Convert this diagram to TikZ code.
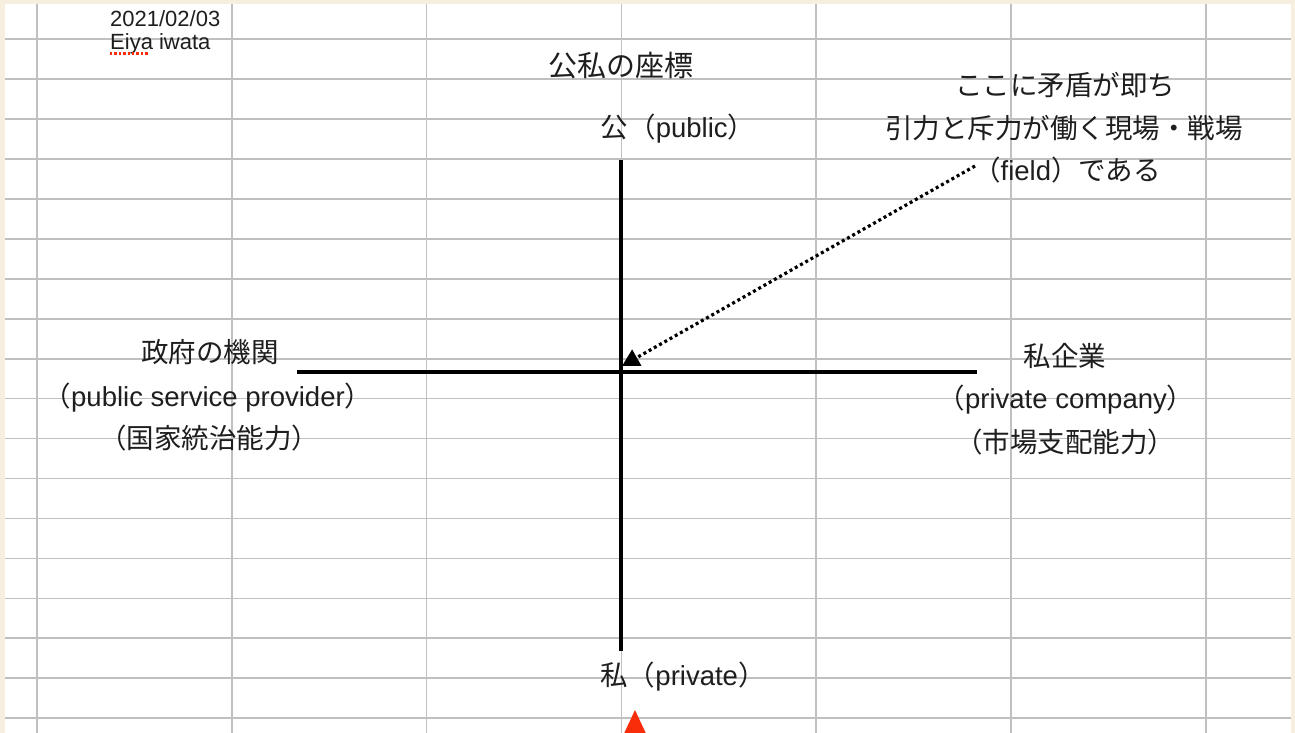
\documentclass[tikz,border=0pt]{standalone}
\usepackage{fontspec}
\setmainfont{Liberation Sans}
\newfontfamily\jp{Noto Sans CJK JP}
\usetikzlibrary{arrows.meta}
\definecolor{gridgray}{RGB}{192,192,192}
\definecolor{framebeige}{RGB}{246,239,224}
\definecolor{markred}{RGB}{250,45,10}
\definecolor{txt}{RGB}{30,30,30}
\begin{document}
\begin{tikzpicture}[x=1pt,y=-1pt,
  gridline/.style={draw=gridgray, line width=1.6pt},
  axisline/.style={draw=black, line width=3.6pt},
  lbl/.style={inner sep=0pt, anchor=base, text=txt, font=\fontsize{27.5}{33}\selectfont},
  titlelbl/.style={inner sep=0pt, anchor=base, text=txt, font=\fontsize{29}{34}\selectfont},
  smalllbl/.style={inner sep=0pt, anchor=base west, text=txt, font=\fontsize{22}{26}\selectfont},
  fieldarrow/.style={draw=black, line width=3.2pt, dash pattern=on 3pt off 3pt,
    -{Triangle[length=17pt,width=18pt]}},
]
\useasboundingbox (0,0) rectangle (1295,733);
\fill[white] (0,0) rectangle (1295,733);
\begin{scope}
\clip (0,0) rectangle (1295,733);
% spreadsheet grid
\foreach \k in {0,...,17} \draw[gridline] (0,{39.3+39.93*\k}) -- (1295,{39.3+39.93*\k});
\foreach \k in {0,...,6} \draw[gridline] ({37+194.8*\k},0) -- ({37+194.8*\k},733);
% red marker at the bottom
\fill[markred] (635,710) -- (621,740) -- (649,740) -- cycle;
\end{scope}
% frame
\fill[framebeige] (0,0) rectangle (5,733);
\fill[framebeige] (0,0) rectangle (1295,4);
\fill[framebeige] (1291,0) rectangle (1295,733);

% header
\node[smalllbl] (date) at (110,27) {2021/02/03};
\node[smalllbl] (author) at (110,50) {Eiya iwata};
\draw[markred, line width=2.2pt, dash pattern=on 2.4pt off 2pt] (110,53.5) -- (148,53.5);

% axes
\coordinate (top) at (621,160);
\coordinate (bottom) at (621,651);
\coordinate (left) at (297,372);
\coordinate (right) at (977,372);
\draw[axisline] (top) -- (bottom);
\draw[axisline] (left) -- (right);

% labels
\node[titlelbl] (title) at (621,77) {{\jp 公私の座標}};
\node[lbl] (pub) at (678,138) {{\jp 公（}public{\jp ）}};
\node[lbl] (priv) at (683,685) {{\jp 私（}private{\jp ）}};

\node[lbl] (gov1) at (210,362) {{\jp 政府の機関}};
\node[lbl] (gov2) at (208,406) {{\jp （}public service provider{\jp ）}};
\node[lbl] (gov3) at (209,448) {{\jp （国家統治能力）}};

\node[lbl] (co1) at (1065,366) {{\jp 私企業}};
\node[lbl] (co2) at (1066,408) {{\jp （}private company{\jp ）}};
\node[lbl] (co3) at (1065,452) {{\jp （市場支配能力）}};

\node[lbl] (f1) at (1065,96) {{\jp ここに矛盾が即ち}};
\node[lbl] (f2) at (1064,139) {{\jp 引力と斥力が働く現場・戦場}};
\node[lbl] (f3) at (1067,180) {{\jp （}field{\jp ）である}};

% dotted arrow
\coordinate (fstart) at (975,166);
\coordinate (ftip) at (622,366);
\draw[fieldarrow] (fstart) -- (ftip);
\end{tikzpicture}
\end{document}
